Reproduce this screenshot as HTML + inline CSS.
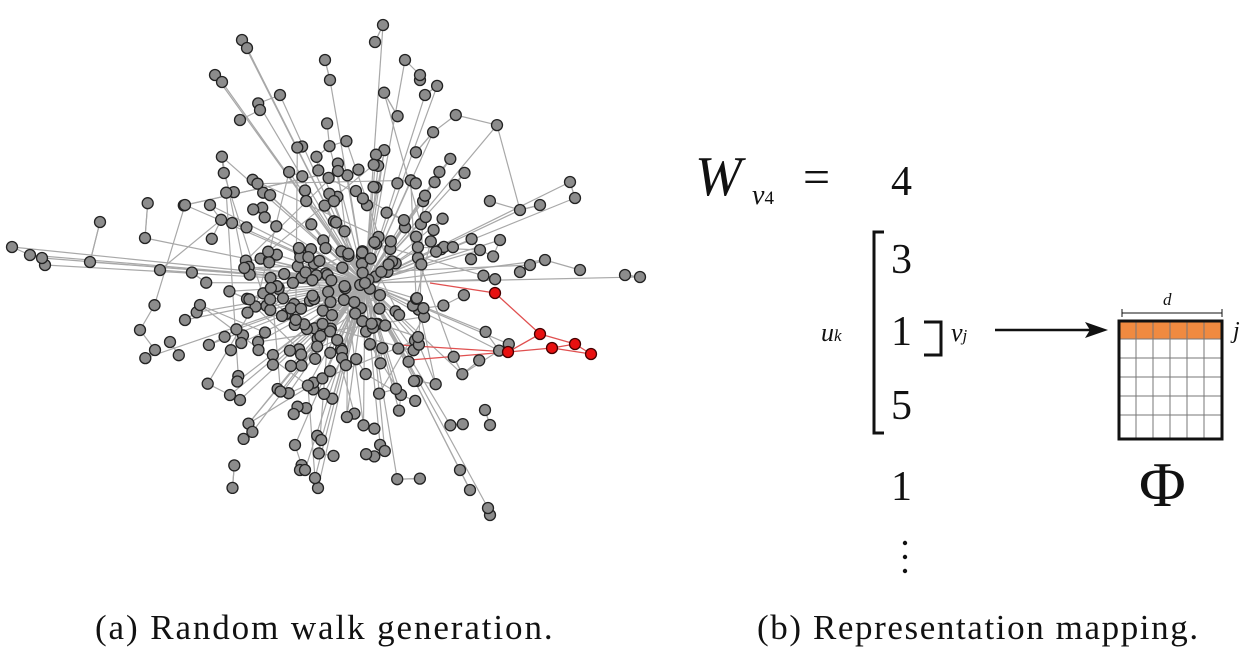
<!DOCTYPE html>
<html><head><meta charset="utf-8"><style>
html,body{margin:0;padding:0;background:#fff;width:1257px;height:657px;overflow:hidden}
.t{position:absolute;font-family:"Liberation Serif",serif;color:#111;white-space:nowrap}
</style></head><body>
<svg id="g" width="1257" height="657" style="position:absolute;left:0;top:0">
<g id="edges" stroke="#a8a8a8" stroke-width="1.2"></g>
<g id="redE" stroke="#e05050" stroke-width="1.3" fill="none">
<polyline points="430,283 495,293 540,334 508,352 552,348 575,344 591,354"/>
<polyline points="410,360 508,352"/><polyline points="400,345 508,352"/>
<polyline points="540,334 575,344"/><polyline points="552,348 591,354"/>
</g>
<g id="nodes" fill="#8c8c8c" stroke="#222" stroke-width="1.3"></g>
<g fill="#e81010" stroke="#400" stroke-width="1.3">
<circle cx="495" cy="293" r="5.5"/><circle cx="540" cy="334" r="5.5"/><circle cx="508" cy="352" r="5.5"/>
<circle cx="552" cy="348" r="5.5"/><circle cx="575" cy="344" r="5.5"/><circle cx="591" cy="354" r="5.5"/>
</g>
<path d="M884,232 H874 V433 H884" stroke="#111" stroke-width="3" fill="none"/>
<path d="M924,322 H941 V355 H924" stroke="#111" stroke-width="3" fill="none"/>
<line x1="995" y1="330" x2="1095" y2="330" stroke="#111" stroke-width="2.5"/>
<polygon points="1108,330 1085,322 1090,330 1085,338" fill="#111"/>
<line x1="1122" y1="313" x2="1222" y2="313" stroke="#111" stroke-width="1"/>
<line x1="1122" y1="309" x2="1122" y2="317" stroke="#111"/><line x1="1222" y1="309" x2="1222" y2="317" stroke="#111"/>
<rect x="1119" y="321" width="103" height="18" fill="#f08a40"/>
<g stroke="#777" stroke-width="1">
<line x1="1136" y1="321" x2="1136" y2="439"/><line x1="1153" y1="321" x2="1153" y2="439"/>
<line x1="1170" y1="321" x2="1170" y2="439"/><line x1="1187" y1="321" x2="1187" y2="439"/>
<line x1="1204" y1="321" x2="1204" y2="439"/>
<line x1="1119" y1="339" x2="1222" y2="339"/><line x1="1119" y1="358" x2="1222" y2="358"/>
<line x1="1119" y1="377" x2="1222" y2="377"/><line x1="1119" y1="396" x2="1222" y2="396"/>
<line x1="1119" y1="415" x2="1222" y2="415"/>
</g>
<rect x="1119" y="321" width="103" height="118" fill="none" stroke="#111" stroke-width="3"/>
<circle cx="905" cy="543" r="2.2" fill="#111"/><circle cx="905" cy="557" r="2.2" fill="#111"/><circle cx="905" cy="571" r="2.2" fill="#111"/>
</svg>
<div class="t" style="left:695px;top:145px;font-size:56px;font-style:italic">W</div>
<div class="t" style="left:752px;top:180px;font-size:28px;font-style:italic">v<span style="font-size:19px;font-style:normal">4</span></div>
<div class="t" style="left:803px;top:150px;font-size:48px">=</div>
<div class="t" style="left:891px;top:158px;font-size:42px">4</div>
<div class="t" style="left:891px;top:236px;font-size:42px">3</div>
<div class="t" style="left:891px;top:308px;font-size:42px">1</div>
<div class="t" style="left:891px;top:382px;font-size:42px">5</div>
<div class="t" style="left:891px;top:463px;font-size:42px">1</div>
<div class="t" style="left:821px;top:318px;font-size:26px;font-style:italic">u<span style="font-size:17px">k</span></div>
<div class="t" style="left:951px;top:318px;font-size:26px;font-style:italic">v<span style="font-size:17px">j</span></div>
<div class="t" style="left:1163px;top:290px;font-size:17px;font-style:italic">d</div>
<div class="t" style="left:1233px;top:318px;font-size:24px;font-style:italic">j</div>
<div class="t" style="left:1139px;top:448px;font-size:64px">Φ</div>
<div class="t" style="left:95px;top:608px;font-size:35px;letter-spacing:1.9px">(a) Random walk generation.</div>
<div class="t" style="left:757px;top:608px;font-size:35px;letter-spacing:1.6px">(b) Representation mapping.</div>
<script>
(function(){
var s=12345;function r(){s=(s*1103515245+12345)%2147483648;return s/2147483648;}
function gn(){return (r()+r()+r()+r()-2)*1.7;}
var N=[],hub=[365,283];
for(var i=0;i<300;i++){var x=340+gn()*75,y=285+gn()*80;if(x<140||x>530||y<60||y>500){i--;continue;}N.push([x,y]);}
var extra=[[12,247],[30,255],[45,265],[42,258],[90,262],[100,222],[145,238],[160,270],[185,205],[210,205],[242,40],[247,48],[215,75],[222,82],[325,60],[330,80],[383,25],[375,42],[405,60],[420,80],[425,95],[570,182],[575,198],[540,205],[520,210],[580,270],[625,275],[640,277],[545,260],[530,265],[520,272],[490,515],[488,508],[318,488],[315,478],[300,470],[470,490],[460,470],[155,350],[170,342],[140,330],[185,320],[200,305],[230,395],[240,400],[295,445],[305,470],[455,185],[480,250],[500,240],[485,410],[490,425],[420,75],[240,120],[260,110],[280,95]];
N=N.concat(extra);
var E=document.getElementById('edges'),h='';
N.forEach(function(p,i){
 if(r()<0.5)h+='<line x1="'+hub[0]+'" y1="'+hub[1]+'" x2="'+p[0].toFixed(1)+'" y2="'+p[1].toFixed(1)+'"/>';
 var best=-1,bd=1e9;
 N.forEach(function(q,j){if(j==i)return;var d=(p[0]-q[0])*(p[0]-q[0])+(p[1]-q[1])*(p[1]-q[1]);if(d<bd){bd=d;best=j;}});
 h+='<line x1="'+p[0].toFixed(1)+'" y1="'+p[1].toFixed(1)+'" x2="'+N[best][0].toFixed(1)+'" y2="'+N[best][1].toFixed(1)+'"/>';
 if(r()<0.5){var q=N[Math.floor(r()*N.length)];if(Math.abs(q[0]-p[0])+Math.abs(q[1]-p[1])<200)h+='<line x1="'+p[0].toFixed(1)+'" y1="'+p[1].toFixed(1)+'" x2="'+q[0].toFixed(1)+'" y2="'+q[1].toFixed(1)+'"/>';}
});
E.innerHTML=h;
var c='';N.forEach(function(p){c+='<circle cx="'+p[0].toFixed(1)+'" cy="'+p[1].toFixed(1)+'" r="5.5"/>';});
c+='<circle cx="365" cy="283" r="5.5"/>';
document.getElementById('nodes').innerHTML=c;
})();
</script>
</body></html>
